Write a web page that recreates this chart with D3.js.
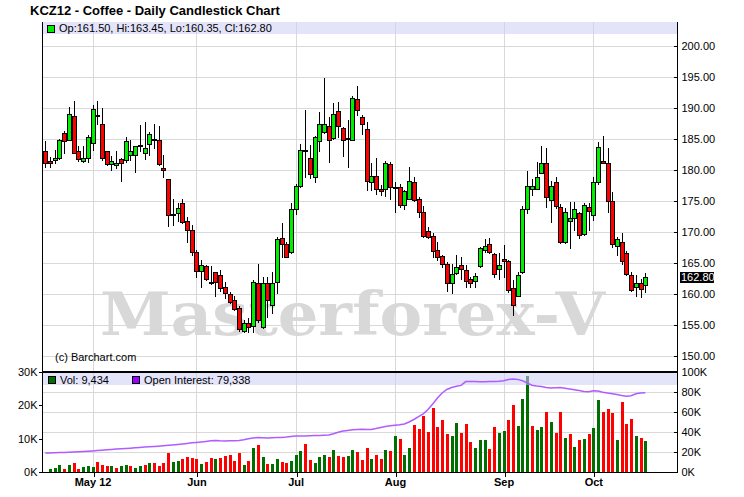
<!DOCTYPE html>
<html><head><meta charset="utf-8">
<script src="https://cdn.jsdelivr.net/npm/d3@7/dist/d3.min.js"></script>
<style>
html,body{margin:0;padding:0;background:#fff;}
svg{display:block;font-family:"Liberation Sans",Arial,sans-serif;}
</style></head>
<body>
<svg id="chart" width="744" height="497"></svg>
<script>
// ---------------- data ----------------
const title = "KCZ12 - Coffee - Daily Candlestick Chart";
const holidays = ["2012-05-28", "2012-07-04", "2012-09-03"];
const firstDay = "2012-04-17";
const tickLabels = ["May 12", "Jun", "Jul", "Aug", "Sep", "Oct"];
const priceTicks = [150, 155, 160, 165, 170, 175, 180, 185, 190, 195, 200];
const volTicks = [0, 10, 20, 30];          // thousands (left)
const oiTicks = [0, 20, 40, 60, 80, 100];  // thousands (right)

const open = [183.1,181.4,181.6,181.9,185.9,184.9,188.7,183.0,181.4,181.9,184.3,188.9,187.5,183.0,181.0,180.8,181.7,181.6,182.5,182.4,
183.8,182.8,184.2,185.0,184.8,180.3,178.5,172.7,173.1,174.6,171.8,170.3,166.8,163.7,164.5,161.9,163.5,163.0,161.1,160.0,
159.0,157.7,154.0,155.4,154.9,161.8,154.6,161.8,158.2,162.0,169.0,168.1,166.7,173.7,177.5,183.3,181.9,178.8,184.7,186.1,
187.1,185.1,189.5,186.7,185.0,184.9,191.4,188.6,186.6,178.1,179.1,176.9,176.9,180.9,177.2,177.3,174.3,175.4,178.0,175.4,
173.3,170.2,169.4,167.1,166.1,164.8,161.7,163.4,164.6,163.9,162.4,162.1,164.5,167.1,168.0,166.4,164.0,165.6,165.3,160.9,
159.7,163.6,173.7,176.9,177.0,179.5,181.1,175.1,178.0,174.1,168.4,171.7,172.3,173.0,169.6,174.1,172.8,178.0,181.5,181.1,
175.0,167.7,168.4,166.6,163.1,161.1,161.7,161.50];
const high = [184.7,182.1,183.3,185.0,186.3,190.1,191.1,183.9,183.9,185.6,190.5,191.1,190.0,183.1,182.3,183.1,181.9,185.3,184.8,183.9,
187.3,187.7,186.2,187.5,187.1,182.4,178.5,175.3,174.6,175.3,172.5,171.1,167.1,165.5,164.7,164.5,163.6,163.8,162.0,160.4,
159.7,158.0,155.8,156.1,162.3,164.8,162.8,162.8,163.6,169.2,171.5,168.4,174.6,177.8,184.2,189.7,184.0,185.5,189.3,194.9,
188.6,190.8,190.9,187.0,188.1,192.0,193.5,188.9,187.8,181.1,182.0,177.6,181.5,181.3,178.1,177.8,176.8,180.5,178.8,175.7,
174.2,170.8,169.9,168.4,166.3,165.2,164.8,166.3,166.0,164.7,162.8,163.4,167.6,168.8,169.0,166.6,166.6,167.9,165.5,162.3,
163.6,174.2,179.9,178.5,181.3,183.8,183.5,178.3,178.9,174.5,173.8,174.9,174.9,173.3,174.6,174.6,178.8,184.5,185.5,183.5,
176.5,169.2,169.9,167.0,163.6,163.0,162.4,163.45];
const low = [180.5,180.5,181.1,181.7,182.7,184.8,182.7,181.5,181.3,181.3,183.2,187.5,181.6,180.8,180.0,180.3,178.3,181.3,181.6,179.7,
183.0,181.8,182.4,183.5,180.8,178.8,171.0,171.1,171.7,171.5,168.4,166.3,162.8,161.1,162.3,161.6,159.7,160.5,159.3,158.5,
157.4,154.1,153.8,153.8,153.8,155.5,154.5,156.3,157.0,160.1,166.0,165.9,166.6,172.9,177.3,178.9,178.7,178.1,183.0,185.9,
181.3,185.0,185.4,182.3,180.5,184.8,188.8,185.8,176.7,176.8,176.1,176.0,175.8,175.4,173.3,174.1,173.7,175.4,175.0,172.5,
169.2,169.1,165.9,165.5,164.4,160.5,160.1,163.3,162.5,161.2,161.2,161.2,164.4,166.8,166.6,162.7,162.5,162.8,160.3,156.6,
159.6,163.4,173.0,176.0,176.9,179.5,174.0,171.6,173.8,168.2,168.2,167.5,170.3,169.0,169.5,170.3,172.0,177.8,181.1,173.3,
167.6,166.3,164.8,163.1,160.5,159.7,159.5,160.35];
const close = [181.1,181.2,181.9,184.9,184.7,189.0,182.8,181.7,182.0,185.3,189.9,188.8,181.9,181.0,181.4,181.1,181.2,184.7,183.0,183.8,
184.1,183.5,185.8,184.9,181.0,180.0,172.7,172.9,173.8,171.6,170.4,166.8,163.7,164.6,162.4,161.8,162.0,160.9,160.1,158.7,
157.5,154.3,155.3,154.6,162.0,155.8,161.8,159.0,161.8,168.9,168.0,166.0,173.7,177.5,183.3,183.2,179.3,185.3,187.4,187.5,
184.9,189.1,187.1,184.9,185.1,191.6,189.7,187.5,178.2,179.1,176.9,176.6,181.1,177.2,177.3,174.3,176.6,178.2,175.2,173.3,
169.4,169.2,167.0,165.9,164.8,161.7,163.2,164.4,164.1,162.1,161.7,162.9,167.4,167.8,166.7,163.3,164.7,165.4,160.6,158.2,
163.0,173.7,177.5,177.4,178.9,181.1,175.6,177.5,174.2,168.4,173.2,172.2,173.7,169.5,174.3,173.4,178.0,183.7,181.1,175.0,
168.0,168.9,165.3,163.2,160.7,161.7,160.8,162.80];
// volume in thousands of contracts
const volume = [null,1.0,1.3,2.2,1.0,2.2,2.8,1.0,1.6,1.9,1.6,3.1,2.2,1.9,1.9,1.3,1.9,2.2,1.9,1.3,
1.9,2.2,2.8,2.8,1.9,2.8,5.8,3.1,3.4,4.0,4.6,4.3,4.0,2.5,3.1,4.3,4.0,4.3,4.9,5.2,
3.4,5.8,2.2,3.4,7.3,8.2,4.6,2.5,2.5,4.0,3.1,2.8,3.4,5.2,6.4,8.5,3.7,2.8,4.6,5.2,
4.6,6.7,4.9,4.6,4.9,6.7,6.1,3.7,7.3,4.0,5.0,4.0,6.7,6.4,10.7,10.0,5.2,7.3,14.0,13.0,
16.9,12.0,19.3,13.6,15.7,11.5,10.9,14.8,11.8,14.5,9.1,7.3,9.7,9.7,7.0,13.4,11.8,12.4,15.7,20.2,
13.9,21.8,28.7,13.7,12.7,13.6,18.1,15.1,11.8,18.1,10.3,11.5,7.6,9.7,10.0,11.5,13.3,21.7,18.1,19.0,
17.8,9.7,21.1,14.5,16.0,10.9,10.3,9.434];
// open interest in thousands of contracts
const openInterest = [18.9,19.0,19.2,19.4,19.6,19.8,20.0,20.2,20.5,20.8,21.1,21.4,21.8,22.2,22.6,22.9,23.2,23.5,23.8,24.2,
24.6,25.0,25.3,25.5,25.8,26.2,26.7,27.1,27.5,28.0,28.6,29.2,29.6,30.1,30.6,31.2,31.5,31.2,31.1,31.2,
31.3,31.6,32.3,33.2,34.0,34.4,34.3,34.1,34.2,34.4,34.6,35.0,35.6,36.0,36.1,36.1,36.2,36.4,36.6,36.8,
37.0,38.2,39.8,41.0,41.6,42.2,42.6,42.7,42.5,42.6,43.4,44.5,45.4,46.2,46.8,47.3,48.1,50.0,52.5,55.3,
58.2,62.5,68.0,74.0,79.0,82.5,84.5,85.8,86.6,90.4,90.5,90.4,90.3,90.2,90.4,90.6,90.8,91.2,92.4,92.9,
92.6,91.3,89.0,86.8,86.0,85.5,84.6,84.0,84.3,84.5,83.8,83.0,82.2,81.4,80.4,80.3,81.2,80.9,79.8,78.9,
78.2,77.4,76.4,75.8,76.3,78.2,78.9,79.338];

// ---------------- categories (trading days) ----------------
const parse = d3.timeParse("%Y-%m-%d"), fmt = d3.timeFormat("%Y-%m-%d");
const dates = [];
for (let d = parse(firstDay); dates.length < open.length; d = d3.timeDay.offset(d, 1)) {
  const wd = d.getDay();
  if (wd === 0 || wd === 6 || holidays.includes(fmt(d))) continue;
  dates.push(new Date(d));
}
const monthStarts = [];
dates.forEach((d, i) => { if (i > 0 && d.getMonth() !== dates[i - 1].getMonth()) monthStarts.push(i); });

const data = dates.map((d, i) => ({
  i, date: d, o: open[i], h: high[i], l: low[i], c: close[i],
  v: volume[i], oi: openInterest[i],
  up: close[i] >= open[i],
  vUp: i === 0 ? true : close[i] >= close[i - 1]
}));

// ---------------- layout ----------------
const svg = d3.select("#chart");
const L = 42, R = 677;
const pTop = 22, pBottom = 372, vBottom = 472;
const x = d3.scaleLinear().domain([0, data.length - 1]).range([45.3, 645.3]);
const yP = d3.scaleLinear().domain([150, 200]).range([356, 46]);
const yV = d3.scaleLinear().domain([0, 30]).range([vBottom, pBottom]);
const yOI = d3.scaleLinear().domain([0, 100]).range([vBottom, pBottom]);
const px = i => Math.round(x(i));
const GRID = "#d9d9d9";

svg.append("rect").attr("width", 744).attr("height", 497).attr("fill", "#fff");

// title
svg.append("text").attr("x", 30).attr("y", 15).attr("font-size", 13).attr("font-weight", "bold")
  .attr("fill", "#000").text(title);

// grid
const g = svg.append("g").attr("shape-rendering", "crispEdges");
g.selectAll(".hp").data(priceTicks).join("line")
  .attr("x1", L).attr("x2", R).attr("y1", d => Math.round(yP(d)) + 0.5).attr("y2", d => Math.round(yP(d)) + 0.5)
  .attr("stroke", GRID);
g.selectAll(".hv").data(oiTicks.filter(d => d > 0 && d < 100)).join("line")
  .attr("x1", L).attr("x2", R).attr("y1", d => Math.round(yOI(d)) + 0.5).attr("y2", d => Math.round(yOI(d)) + 0.5)
  .attr("stroke", GRID);
g.selectAll(".vg").data(monthStarts).join("line")
  .attr("x1", d => px(d) + 0.5).attr("x2", d => px(d) + 0.5).attr("y1", pTop).attr("y2", vBottom)
  .attr("stroke", GRID);

// watermark
svg.append("text").attr("x", 100).attr("y", 335).attr("font-family", "'DejaVu Serif',serif")
  .attr("font-weight", "bold").attr("font-size", 60).attr("fill", "#d8d8d8")
  .attr("textLength", 505).attr("lengthAdjust", "spacingAndGlyphs").text("Masterforex-V");

// copyright
svg.append("text").attr("x", 55).attr("y", 361).attr("font-size", 11).attr("fill", "#000").text("(c) Barchart.com");

// candles
const cg = svg.append("g").attr("shape-rendering", "crispEdges");
cg.selectAll(".wick").data(data).join("line")
  .attr("x1", d => px(d.i) + 0.5).attr("x2", d => px(d.i) + 0.5)
  .attr("y1", d => Math.round(yP(d.h))).attr("y2", d => Math.round(yP(d.l)) + 1)
  .attr("stroke", "#000").attr("stroke-width", 1);
cg.selectAll(".body").data(data).join("rect")
  .attr("x", d => px(d.i) - 2 + 0.5)
  .attr("y", d => Math.round(yP(Math.max(d.o, d.c))) + 0.5)
  .attr("width", 4)
  .attr("height", d => Math.max(1, Math.round(yP(Math.min(d.o, d.c))) - Math.round(yP(Math.max(d.o, d.c)))))
  .attr("fill", d => d.up ? "#00ee00" : "#ff0000")
  .attr("stroke", "#000").attr("stroke-width", 1);

// volume bars
const vg = svg.append("g").attr("shape-rendering", "crispEdges");
vg.selectAll("rect").data(data.filter(d => d.v != null)).join("rect")
  .attr("x", d => px(d.i) - 1)
  .attr("y", d => Math.round(yV(d.v)))
  .attr("width", 3)
  .attr("height", d => vBottom - Math.round(yV(d.v)))
  .attr("fill", d => d.vUp ? "#006e00" : "#ff0000");

// legend bands
svg.append("rect").attr("x", L).attr("y", pTop).attr("width", R - L).attr("height", 12)
  .attr("fill", "#ccccf5").attr("opacity", 0.55);
svg.append("rect").attr("x", L).attr("y", pBottom + 1).attr("width", R - L).attr("height", 12)
  .attr("fill", "#ccccf5").attr("opacity", 0.55);

// open interest line
svg.append("path").datum(data)
  .attr("d", d3.line().x(d => x(d.i)).y(d => yOI(d.oi)))
  .attr("fill", "none").attr("stroke", "#b05cff").attr("stroke-width", 1.5);

// legends
const last = data[data.length - 1];
svg.append("rect").attr("x", 47.5).attr("y", 25.5).attr("width", 7).attr("height", 7)
  .attr("fill", "#00ee00").attr("stroke", "#000").attr("shape-rendering", "crispEdges");
svg.append("text").attr("x", 59).attr("y", 32).attr("font-size", 11)
  .text(`Op:${last.o.toFixed(2)}, Hi:${last.h.toFixed(2)}, Lo:${last.l.toFixed(2)}, Cl:${last.c.toFixed(2)}`);
const nf = d3.format(",");
svg.append("rect").attr("x", 48.5).attr("y", 376.5).attr("width", 7).attr("height", 7)
  .attr("fill", "#006e00").attr("stroke", "#000").attr("shape-rendering", "crispEdges");
svg.append("text").attr("x", 60).attr("y", 384).attr("font-size", 11).text(`Vol: ${nf(Math.round(last.v * 1000))}`);
svg.append("rect").attr("x", 132.5).attr("y", 376.5).attr("width", 7).attr("height", 7)
  .attr("fill", "#9900ff").attr("stroke", "#000").attr("shape-rendering", "crispEdges");
svg.append("text").attr("x", 144).attr("y", 384).attr("font-size", 11).text(`Open Interest: ${nf(Math.round(last.oi * 1000))}`);

// axes
function styleAxis(sel, bold) {
  sel.selectAll("text").attr("font-size", 11).attr("fill", "#000")
    .attr("font-family", "'Liberation Sans',Arial,sans-serif").attr("font-weight", bold ? "bold" : "normal");
  sel.selectAll("line,path").attr("stroke", "#000").attr("shape-rendering", "crispEdges");
}
svg.append("g").attr("transform", `translate(${R + 0.5},0)`)
  .call(d3.axisRight(yP).tickValues(priceTicks).tickFormat(d3.format(".2f")).tickSize(-4).tickPadding(4))
  .call(s => s.select(".domain").remove()).call(s => styleAxis(s));
svg.append("g").attr("transform", `translate(${R + 0.5},0)`)
  .call(d3.axisRight(yOI).tickValues(oiTicks).tickFormat(d => d + "K").tickSize(-4).tickPadding(4))
  .call(s => s.select(".domain").remove()).call(s => styleAxis(s));
svg.append("g").attr("transform", `translate(${L + 0.5},0)`)
  .call(d3.axisLeft(yV).tickValues(volTicks).tickFormat(d => d + "K").tickSize(4).tickPadding(1))
  .call(s => s.select(".domain").remove()).call(s => styleAxis(s));
svg.append("g").attr("transform", `translate(0,${vBottom + 0.5})`)
  .call(d3.axisBottom(x).tickValues(monthStarts).tickFormat((d, k) => tickLabels[k]).tickSize(4).tickPadding(2))
  .call(s => s.select(".domain").remove())
  .call(s => { styleAxis(s, true); s.selectAll(".tick line").attr("transform", d => `translate(${px(d) + 0.5 - x(d)},0)`); });

// frame lines
const fr = svg.append("g").attr("stroke", "#000").attr("shape-rendering", "crispEdges");
fr.append("line").attr("x1", L + 0.5).attr("x2", L + 0.5).attr("y1", pTop).attr("y2", vBottom + 1);
fr.append("line").attr("x1", R + 0.5).attr("x2", R + 0.5).attr("y1", pTop).attr("y2", vBottom + 1);
fr.append("line").attr("x1", L).attr("x2", R + 1).attr("y1", vBottom + 0.5).attr("y2", vBottom + 0.5);
fr.append("line").attr("x1", L).attr("x2", R + 1).attr("y1", pBottom).attr("y2", pBottom).attr("stroke-width", 2);

// last price tag
const tag = svg.append("g").attr("transform", `translate(680,${Math.round(yP(last.c))})`);
tag.append("rect").attr("x", 0).attr("y", -5).attr("width", 34).attr("height", 11).attr("fill", "#000");
tag.append("text").attr("x", 1).attr("y", 4).attr("font-size", 11).attr("fill", "#fff").text(last.c.toFixed(2));
</script>
</body></html>
